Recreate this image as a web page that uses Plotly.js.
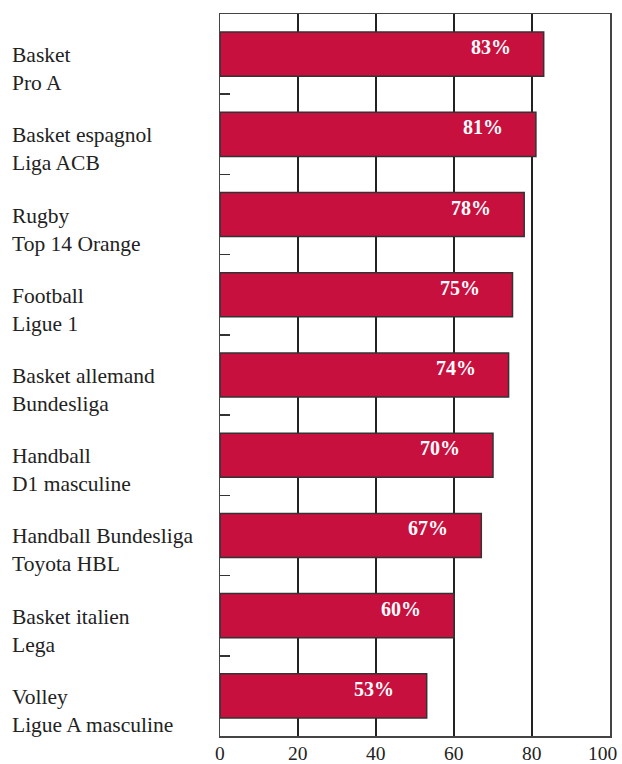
<!DOCTYPE html>
<html>
<head>
<meta charset="utf-8">
<script src="https://cdn.plot.ly/plotly-3.0.1.min.js"></script>
<style>html,body{margin:0;padding:0;background:#fff;}</style>
</head>
<body>
<div id="chart" style="width:622px;height:764px;"></div>
<script>
const categories = [
  "Basket<br>Pro A",
  "Basket espagnol<br>Liga ACB",
  "Rugby<br>Top 14 Orange",
  "Football<br>Ligue 1",
  "Basket allemand<br>Bundesliga",
  "Handball<br>D1 masculine",
  "Handball Bundesliga<br>Toyota HBL",
  "Basket italien<br>Lega",
  "Volley<br>Ligue A masculine"
];
const values = [83, 81, 78, 75, 74, 70, 67, 60, 53];
const xTicks = [0, 20, 40, 60, 80, 100];

const serif = "Liberation Serif, Times New Roman, serif";
const L = 219.5, R = 12, T = 14, B = 28, W = 622;
const plotW = W - L - R;

const trace = {
  type: "bar",
  orientation: "h",
  y: categories,
  x: values,
  width: 0.55,
  marker: { color: "#C8103F", line: { color: "#333333", width: 1.5 } },
  hoverinfo: "none"
};

const annotations = [];
categories.forEach((c, i) => {
  annotations.push({
    xref: "paper", yref: "y", x: (9 - L) / plotW, y: c,
    xanchor: "left", yanchor: "middle", align: "left",
    text: c, showarrow: false, yshift: -15,
    font: { family: serif, size: 21.5, color: "#222" }
  });
  annotations.push({
    xref: "x", yref: "y", x: values[i], y: c,
    xanchor: "right", yanchor: "middle",
    text: "<b>" + values[i] + "%</b>", showarrow: false,
    xshift: -31, yshift: 7,
    font: { family: serif, size: 20, color: "#ffffff" }
  });
});
// x-axis tick labels (last one kept inside the page edge, as in the reference)
xTicks.forEach((t, i) => {
  const last = i === xTicks.length - 1;
  annotations.push({
    xref: "x", yref: "paper", x: t, y: 0,
    xanchor: last ? "right" : "center", yanchor: "top",
    xshift: last ? 9 : 0, yshift: -5,
    text: String(t), showarrow: false,
    font: { family: serif, size: 19.5, color: "#222" }
  });
});

const layout = {
  width: 622, height: 764,
  margin: { l: L, r: R, t: T, b: B, pad: 0 },
  paper_bgcolor: "#fff", plot_bgcolor: "#fff",
  showlegend: false,
  bargap: 0.45,
  xaxis: {
    range: [0, 100], autorange: false, tickvals: xTicks,
    showticklabels: false,
    showgrid: true, gridcolor: "#222", gridwidth: 1.5,
    zeroline: false, showline: true, linecolor: "#444", linewidth: 1.5, mirror: true,
    ticks: "", fixedrange: true
  },
  yaxis: {
    type: "category", range: [categories.length - 0.5, -0.5], autorange: false,
    showticklabels: false, showgrid: false, zeroline: false,
    showline: true, linecolor: "#444", linewidth: 1.5, mirror: true,
    ticks: "inside", tickson: "boundaries", ticklen: 10, tickwidth: 1.5, tickcolor: "#333",
    fixedrange: true
  },
  annotations: annotations
};

Plotly.newPlot("chart", [trace], layout, { staticPlot: true, displayModeBar: false });
</script>
</body>
</html>
